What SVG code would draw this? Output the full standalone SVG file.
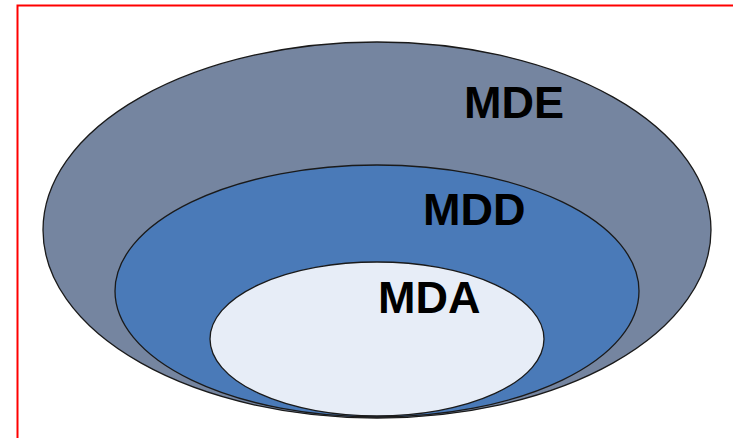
<svg xmlns="http://www.w3.org/2000/svg" width="733" height="438" viewBox="0 0 733 438">
<style>
.e{stroke:#1a1a1a;stroke-width:1.3}
.t{font-family:"Liberation Sans",Arial,sans-serif;font-weight:bold;font-size:45px;fill:#000}
</style>
<rect width="733" height="438" fill="#fff"/>
<path d="M17.5 438V5.5H733" fill="none" stroke="#f00" stroke-width="2"/>
<g id="mde"><ellipse class="e" cx="377" cy="230" rx="334" ry="188" fill="#7585A0"/><text class="t" x="464" y="118">MDE</text></g>
<g id="mdd"><ellipse class="e" cx="377" cy="291" rx="262" ry="126" fill="#4A7AB8"/><text class="t" x="423" y="225">MDD</text></g>
<g id="mda"><ellipse class="e" cx="377" cy="339" rx="167" ry="77" fill="#E7EDF7"/><text class="t" x="378" y="313">MDA</text></g>
<g id="connectors"/>
</svg>
